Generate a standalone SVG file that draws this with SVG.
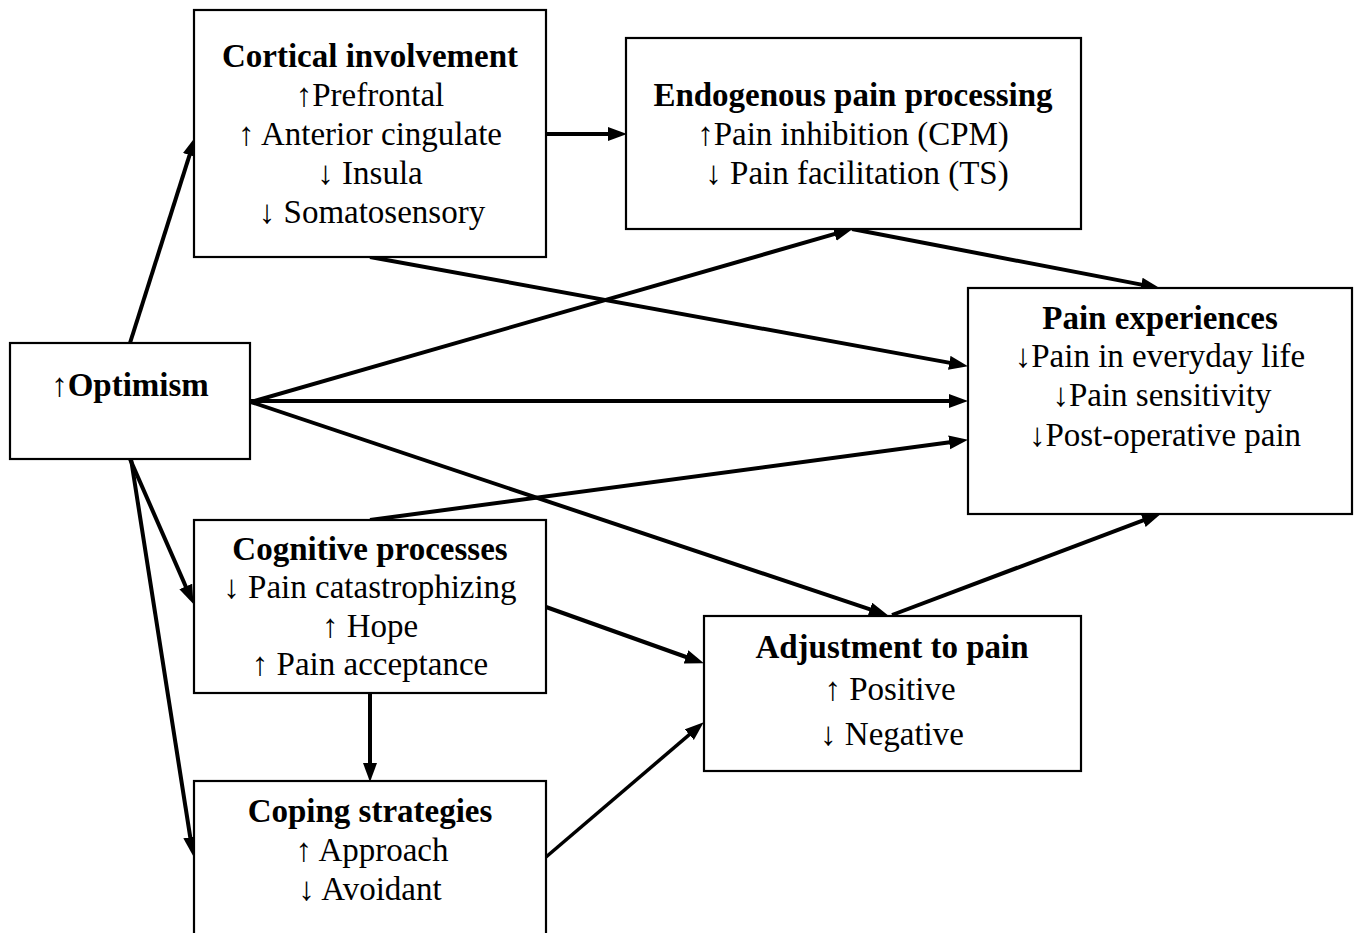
<svg xmlns="http://www.w3.org/2000/svg" width="1356" height="933" viewBox="0 0 1356 933">
<defs>
<style>
.box{fill:#fff;stroke:#000;stroke-width:2.2}
text{font-family:"Liberation Serif","Times New Roman",serif;font-size:33px;fill:#000;text-anchor:middle}
.b{font-weight:bold}
.e{stroke:#000;stroke-width:4;fill:none;marker-end:url(#ah)}
</style>
<marker id="ah" markerUnits="userSpaceOnUse" markerWidth="22" markerHeight="16" refX="12" refY="7" orient="auto">
<path d="M0,0 L19,7 L0,14 z" fill="#000"/>
</marker>
</defs>
<rect width="1356" height="933" fill="#fff"/>
<g id="connectors">
<line class="e" x1="130" y1="343" x2="193.2" y2="143.7"/>
<line class="e" x1="546" y1="134" x2="620" y2="134"/>
<line class="e" x1="370" y1="257" x2="961.1" y2="364.9"/>
<line class="e" x1="251" y1="402" x2="846.2" y2="230.7"/>
<line class="e" x1="852" y1="229" x2="1153.1" y2="286.9"/>
<line class="e" x1="251" y1="401" x2="961" y2="401"/>
<line class="e" x1="370" y1="520" x2="961.1" y2="440.8"/>
<line class="e" x1="251" y1="402" x2="881.3" y2="613.1"/>
<line class="e" x1="892" y1="615" x2="1154.4" y2="516.1"/>
<line class="e" x1="130" y1="459" x2="190.6" y2="597.5"/>
<line class="e" x1="131" y1="459" x2="192.1" y2="849.1"/>
<line class="e" x1="546" y1="607" x2="697.3" y2="661"/>
<line class="e" x1="370" y1="693" x2="370" y2="775"/>
<line class="e" style="stroke-width:3.5" x1="546" y1="857" x2="698.4" y2="726.9"/>
</g>
<g id="cortical">
<rect class="box" x="194" y="10" width="352" height="247"/>
<text class="b" x="370" y="67">Cortical involvement</text>
<text x="370" y="106">↑Prefrontal</text>
<text x="370" y="145">↑ Anterior cingulate</text>
<text x="370" y="184">↓ Insula</text>
<text x="372" y="223">↓ Somatosensory</text>
</g>
<g id="endogenous">
<rect class="box" x="626" y="38" width="455" height="191"/>
<text class="b" x="853" y="106">Endogenous pain processing</text>
<text x="853" y="145">↑Pain inhibition (CPM)</text>
<text x="857" y="184">↓ Pain facilitation (TS)</text>
</g>
<g id="optimism">
<rect class="box" x="10" y="343" width="240" height="116"/>
<text class="b" x="130" y="396">↑Optimism</text>
</g>
<g id="pain-experiences">
<rect class="box" x="968" y="288" width="384" height="226"/>
<text class="b" x="1160" y="329">Pain experiences</text>
<text x="1160" y="367">↓Pain in everyday life</text>
<text x="1162" y="406">↓Pain sensitivity</text>
<text x="1165" y="446">↓Post-operative pain</text>
</g>
<g id="cognitive">
<rect class="box" x="194" y="520" width="352" height="173"/>
<text class="b" x="370" y="560">Cognitive processes</text>
<text x="370" y="598">↓ Pain catastrophizing</text>
<text x="370" y="637">↑ Hope</text>
<text x="370" y="675">↑ Pain acceptance</text>
</g>
<g id="adjustment">
<rect class="box" x="704" y="616" width="377" height="155"/>
<text class="b" x="892" y="658">Adjustment to pain</text>
<text x="890" y="700">↑ Positive</text>
<text x="892" y="745">↓ Negative</text>
</g>
<g id="coping">
<rect class="box" x="194" y="781" width="352" height="160"/>
<text class="b" x="370" y="822">Coping strategies</text>
<text x="372" y="861">↑ Approach</text>
<text x="370" y="900">↓ Avoidant</text>
</g>
</svg>
